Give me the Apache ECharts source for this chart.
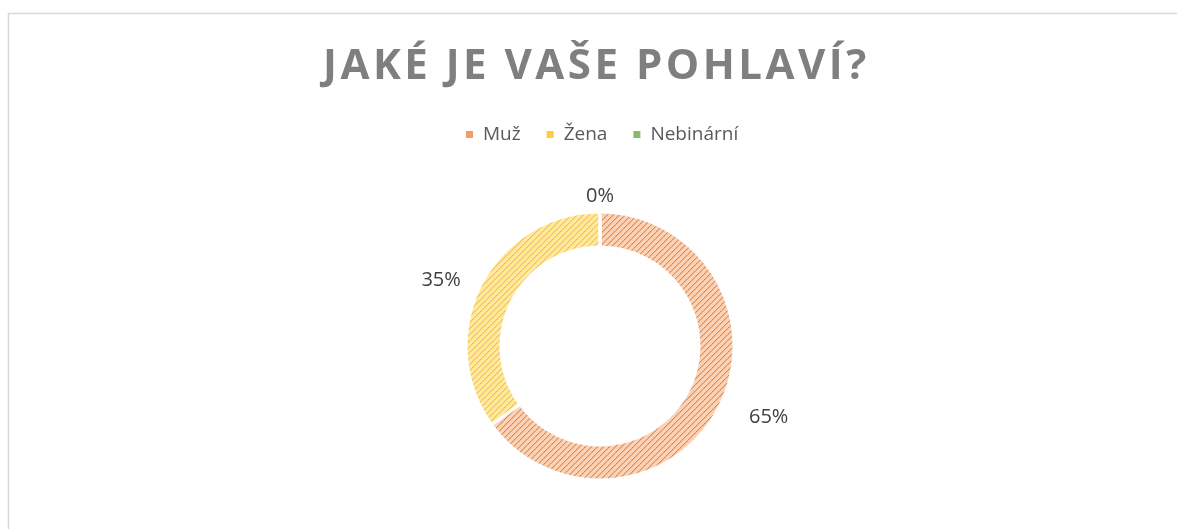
<!DOCTYPE html>
<html>
<head>
<meta charset="utf-8">
<script src="https://cdn.jsdelivr.net/npm/echarts@6/dist/echarts.min.js"></script>
<style>
  html, body { margin: 0; padding: 0; background: #fff; }
  #chart { width: 1177px; height: 529px; }
</style>
</head>
<body>
<div id="chart"></div>
<script>
  // data
  const titleText = 'JAKÉ JE VAŠE POHLAVÍ?'
  const categories = ['Muž', 'Žena', 'Nebinární']
  const values = [65, 35, 0]
  const labels = ['65%', '35%', '0%']
  const colors = ['#ed7d31', '#ffc000', '#70ad47']
  const lightColors = ['#f9d2b7', '#ffe8a3', '#d2e6c3']
  const iconColors = ['#f29d63', '#ffcd3a', '#88bb66']

  // the title is letter-spaced like the original; echarts has no option for that
  const rawFillText = CanvasRenderingContext2D.prototype.fillText
  CanvasRenderingContext2D.prototype.fillText = function (text, x, y) {
    if (text !== titleText) return rawFillText.apply(this, arguments)
    const prev = this.letterSpacing
    this.letterSpacing = '3.5px'
    rawFillText.call(this, text, x, y)
    this.letterSpacing = prev
  }

  // hatched fill: light background with dotted diagonal lines
  function hatch(dark, light) {
    const c = document.createElement('canvas')
    c.width = 6
    c.height = 6
    const ctx = c.getContext('2d')
    ctx.fillStyle = light
    ctx.fillRect(0, 0, 6, 6)
    ctx.fillStyle = dark
    for (let i = 0; i < 6; i++) {
      ctx.globalAlpha = i % 2 === 0 ? 1 : 0.7
      ctx.fillRect(i, 5 - i, 1, 1)
      ctx.globalAlpha = 0.35
      ctx.fillRect(i, (6 - i) % 6, 1, 1)
    }
    return c
  }

  const fills = colors.map((c, i) => ({ image: hatch(c, lightColors[i]), repeat: 'repeat' }))

  const chart = echarts.init(document.getElementById('chart'))
  chart.setOption({
    backgroundColor: '#fff',
    title: {
      text: titleText,
      left: 318,
      top: 41,
      textStyle: {
        fontFamily: 'Open Sans',
        fontSize: 42,
        fontWeight: 'bold',
        color: '#7f7f7f'
      }
    },
    legend: {
      top: 120,
      left: 459,
      itemWidth: 9,
      itemHeight: 9,
      itemGap: 24,
      icon: 'rect',
      textStyle: {
        fontFamily: 'Open Sans',
        fontSize: 19,
        color: '#595959',
        padding: [0, 0, 0, 4]
      },
      data: categories.map((n, i) => ({ name: n, itemStyle: { color: iconColors[i] } }))
    },
    graphic: [{
      type: 'rect',
      shape: { x: 8.5, y: 13.5, width: 1200, height: 600 },
      style: { fill: 'none', stroke: '#d9d9d9', lineWidth: 1.5 },
      silent: true
    }],
    series: [{
      type: 'pie',
      center: [600, 346],
      radius: [99, 134],
      startAngle: 90,
      clockwise: true,
      avoidLabelOverlap: false,
      stillShowZeroSum: true,
      itemStyle: { borderColor: '#fff', borderWidth: 3 },
      label: {
        show: true,
        position: 'outside',
        fontFamily: 'Open Sans',
        fontSize: 20,
        color: '#404040',
        formatter: p => labels[p.dataIndex]
      },
      labelLine: { show: false },
      // the 0% label sits centred above the ring
      labelLayout: p => p.dataIndex === 2 ? { dx: p.labelRect.width / 2 + 5 } : {},
      emphasis: { disabled: true },
      data: [
        { name: categories[0], value: values[0], itemStyle: { color: fills[0] }, labelLine: { length: 22, length2: 5 } },
        { name: categories[1], value: values[1], itemStyle: { color: fills[1] }, labelLine: { length: 11, length2: 5 } },
        { name: categories[2], value: values[2], itemStyle: { color: fills[2] }, labelLine: { length: 16, length2: 0 } }
      ]
    }]
  })
</script>
</body>
</html>
